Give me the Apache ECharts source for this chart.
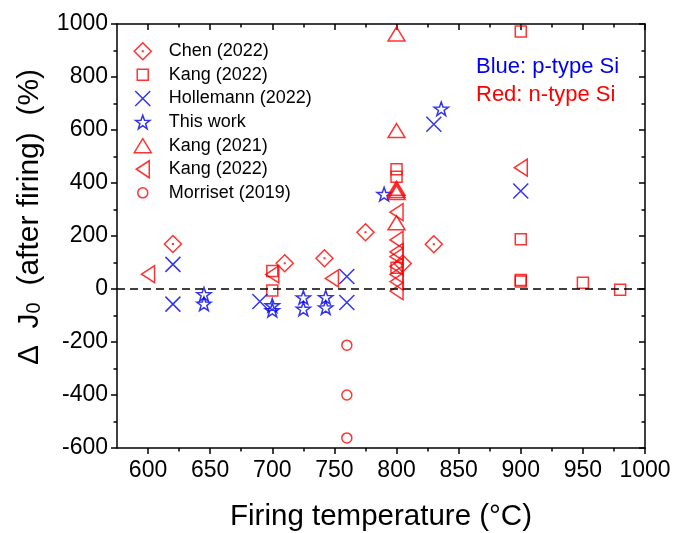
<!DOCTYPE html>
<html><head><meta charset="utf-8">
<script src="https://cdn.jsdelivr.net/npm/echarts@6/dist/echarts.min.js"></script>
<style>html,body{margin:0;padding:0;background:#fff}#c{width:676px;height:533px}</style>
</head><body><div id="c"></div>
<script>
// ---- data ----
const chenX = [620, 710, 742, 775, 805, 830];
const chenY = [170, 97, 116, 214, 96, 169];
const kangSqX = [700, 700, 800, 800, 800, 900, 900, 900, 900, 950, 980];
const kangSqY = [68, -6, 452, 424, 80, 972, 188, 34, 28, 24, -3];
const hollX = [620, 620, 690, 760, 760, 830, 900];
const hollY = [93, -57, -47, 47, -51, 622, 370];
const thisX = [645, 645, 700, 700, 725, 725, 743, 743, 790, 836];
const thisY = [-20, -56, -62, -80, -32, -75, -31, -70, 358, 680];
const kang21X = [800, 800, 800, 800, 800, 800];
const kang21Y = [962, 598, 380, 372, 364, 250];
const kangTriX = [600, 700, 748, 800, 800, 800, 800, 800, 800, 800, 800, 900];
const kangTriY = [56, 55, 40, 290, 185, 140, 122, 85, 55, 28, -8, 458];
const morrX = [760, 760, 760];
const morrY = [-212, -400, -562];
const xTickValues = [600, 650, 700, 750, 800, 850, 900, 950, 1000];
const seriesNames = ['Chen (2022)', 'Kang (2022)', 'Hollemann (2022)', 'This work', 'Kang (2021)', 'Kang (2022) ', 'Morriset (2019)'];

const FONT = "'Liberation Sans', Arial, Helvetica, sans-serif";
const RED = '#FF0000', BLUE = '#0000F0';
const F = 'M0,0M20,20';
const SYM = {
  diamond: 'path://' + F + 'M10,1.5L18.5,10L10,18.5L1.5,10ZM9.7,9.7L10.3,9.7L10.3,10.3L9.7,10.3Z',
  square: 'path://' + F + 'M4.5,4.5L15.5,4.5L15.5,15.5L4.5,15.5Z',
  cross: 'path://' + F + 'M2.5,2.5L17.5,17.5M17.5,2.5L2.5,17.5',
  star: 'path://' + F + 'M10,3.2L11.763,8.273L17.133,8.382L12.853,11.627L14.408,16.768L10,13.7L5.592,16.768L7.147,11.627L2.867,8.382L8.237,8.273Z',
  up: 'path://' + F + 'M10,3L18.5,17L1.5,17Z',
  left: 'path://' + F + 'M3.5,10L16.5,1.5L16.5,18.5Z',
  circle: 'path://' + F + 'M5,10A5,5,0,1,1,15,10A5,5,0,1,1,5,10Z'
};

function mk(name, xs, ys, sym, color, extra) {
  return Object.assign({
    type: 'scatter', name: name, symbol: sym, symbolSize: 20,
    data: xs.map((x, i) => [x, ys[i]]),
    itemStyle: { color: 'rgba(0,0,0,0)', borderColor: color, borderWidth: 1.5 },
    emphasis: { disabled: true }
  }, extra || {});
}

const tickLine = { color: '#000', width: 1.5 };
function xAx(pos, inside) {
  return {
    type: 'value', position: pos, min: 575, max: 1000, splitNumber: 8, minInterval: 50, maxInterval: 50,
    axisLine: { show: true, onZero: false, lineStyle: { color: '#000', width: 1.5 } },
    axisTick: { show: true, inside: inside, length: 6, lineStyle: tickLine, customValues: xTickValues },
    minorTick: { show: true, splitNumber: 2, length: 3.5, lineStyle: tickLine },
    splitLine: { show: false }, minorSplitLine: { show: false },
    axisLabel: { show: !inside, customValues: xTickValues, fontSize: 23, color: '#000', margin: 11, fontFamily: FONT,
      formatter: v => (v % 50 === 0 ? String(v) : '') },
    name: inside ? '' : 'Firing temperature (°C)', nameLocation: 'middle', nameGap: 54,
    nameTextStyle: { fontSize: 29.5, color: '#000', fontFamily: FONT }
  };
}
function yAx(pos, inside) {
  return {
    type: 'value', position: pos, min: -600, max: 1000, interval: 200,
    axisLine: { show: true, onZero: false, lineStyle: { color: '#000', width: 1.5 } },
    axisTick: { show: true, inside: inside, length: 6, lineStyle: tickLine },
    minorTick: { show: true, splitNumber: 2, length: 3.5, lineStyle: tickLine },
    splitLine: { show: false }, minorSplitLine: { show: false },
    axisLabel: { show: !inside, fontSize: 23, color: '#000', margin: 9, fontFamily: FONT,
      formatter: v => String(v) }
  };
}

const chart = echarts.init(document.getElementById('c'), null, { renderer: 'canvas' });
chart.setOption({
  animation: false,
  backgroundColor: '#fff',
  grid: { left: 117, right: 31, top: 24, bottom: 85, containLabel: false, outerBoundsMode: 'none' },
  xAxis: [xAx('bottom', false), xAx('top', true)],
  yAxis: [yAx('left', false), yAx('right', true)],
  legend: {
    orient: 'vertical', left: 132, top: 40.5, padding: 0,
    itemWidth: 42, itemHeight: 20, itemGap: 2.1, selectedMode: false,
    textStyle: { fontSize: 18, color: '#000', fontFamily: FONT },
    itemStyle: { borderWidth: 1.5 },
    formatter: n => n.trim(),
    data: [
      { name: seriesNames[0], icon: SYM.diamond },
      { name: seriesNames[1], icon: SYM.square },
      { name: seriesNames[2], icon: SYM.cross },
      { name: seriesNames[3], icon: SYM.star },
      { name: seriesNames[4], icon: SYM.up },
      { name: seriesNames[5], icon: SYM.left },
      { name: seriesNames[6], icon: SYM.circle }
    ]
  },
  graphic: [
    { type: 'text', x: 29, y: 217, rotation: Math.PI / 2, silent: true,
      style: { text: '{a|Δ  J}{s|0}{a|  (after firing)  (%)}', align: 'center', verticalAlign: 'middle',
        rich: { a: { fontSize: 30, lineHeight: 31, fontFamily: FONT, fill: '#000', verticalAlign: 'bottom' },
                s: { fontSize: 20, lineHeight: 11, fontFamily: FONT, fill: '#000', verticalAlign: 'bottom' } } } },
    { type: 'text', x: 476, y: 67, silent: true,
      style: { text: 'Blue: p-type Si', fontSize: 22, fontFamily: FONT, fill: BLUE, verticalAlign: 'middle' } },
    { type: 'text', x: 476, y: 95, silent: true,
      style: { text: 'Red: n-type Si', fontSize: 22, fontFamily: FONT, fill: RED, verticalAlign: 'middle' } }
  ],
  series: [
    mk(seriesNames[0], chenX, chenY, SYM.diamond, RED, {
      markLine: { silent: true, symbol: ['none', 'none'], label: { show: false },
        lineStyle: { color: '#000', type: [8, 5], width: 1.5 }, emphasis: { disabled: true },
        data: [{ yAxis: 0 }] }
    }),
    mk(seriesNames[1], kangSqX, kangSqY, SYM.square, RED),
    mk(seriesNames[2], hollX, hollY, SYM.cross, BLUE),
    mk(seriesNames[3], thisX, thisY, SYM.star, BLUE),
    mk(seriesNames[4], kang21X, kang21Y, SYM.up, RED),
    mk(seriesNames[5], kangTriX, kangTriY, SYM.left, RED),
    mk(seriesNames[6], morrX, morrY, SYM.circle, RED)
  ]
});
</script>
</body></html>
